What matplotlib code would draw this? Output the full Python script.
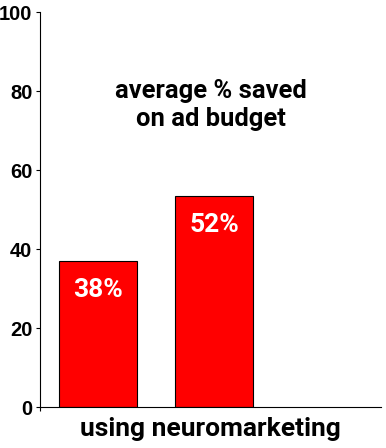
import matplotlib.pyplot as plt

# values
bar_heights = [37, 53.5]
bar_labels = ["38%", "52%"]
y_ticks = [0, 20, 40, 60, 80, 100]

plt.rcParams["font.family"] = ["Roboto", "DejaVu Sans"]

fig = plt.figure(figsize=(3.86, 4.48), dpi=100)
ax = fig.add_axes([0.1036, 0.0915, 0.8834, 0.8815])

x = list(range(len(bar_heights)))
bars = ax.bar(x, bar_heights, width=0.67, color="#ff0000", edgecolor="black", linewidth=0.8)

for b, lab in zip(bars, bar_labels):
    ax.text(b.get_x() + b.get_width() / 2, b.get_height() - 7.3, lab,
            ha="center", va="center", color="white", fontsize=19, fontweight="bold")

ax.text(0.50, 0.765, "average % saved\non ad budget", transform=ax.transAxes,
        ha="center", va="center", fontsize=18.4, fontweight="bold", linespacing=1.2)

ax.set_xlim(-0.495, 2.43)
ax.set_ylim(0, 100)
ax.set_yticks(y_ticks)
ax.set_xticks([-0.495])
ax.set_xticklabels([""])
ax.tick_params(axis="y", length=3, width=0.8, pad=2.5, labelsize=14.5)
ax.tick_params(axis="x", length=3, width=0.8)
for t in ax.get_yticklabels():
    t.set_fontweight("bold")
    t.set_family(["Liberation Sans", "DejaVu Sans"])

ax.spines["top"].set_visible(False)
ax.spines["right"].set_visible(False)
ax.set_xlabel("using neuromarketing", fontsize=19, fontweight="bold", labelpad=1)

fig.savefig("out.png", dpi=100)
